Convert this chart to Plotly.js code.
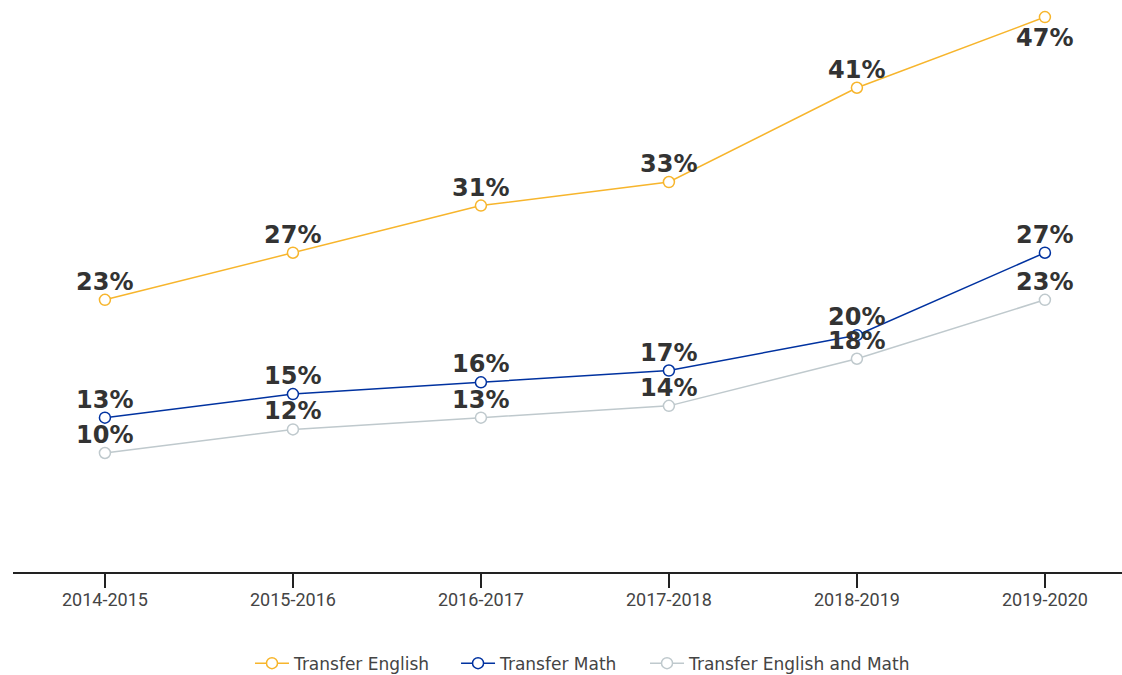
<!DOCTYPE html>
<html>
<head>
<meta charset="utf-8">
<script src="https://cdn.plot.ly/plotly-3.0.1.min.js"></script>
<style>html,body{margin:0;padding:0;background:#fff;}#chart{width:1122px;height:675px;}</style>
</head>
<body>
<div id="chart"></div>
<script>
const years = ["2014-2015", "2015-2016", "2016-2017", "2017-2018", "2018-2019", "2019-2020"];
const transferEnglish = [23, 27, 31, 33, 41, 47];
const transferMath = [13, 15, 16, 17, 20, 27];
const transferBoth = [10, 12, 13, 14, 18, 23];
const englishLabelSide = ["above", "above", "above", "above", "above", "below"];

const colors = {english: "#F7B52C", math: "#0032A0", both: "#BFC9CD"};
const labelFont = {family: "DejaVu Sans, Verdana, sans-serif", size: 24, color: "#333333", weight: "bold"};

function series(name, vals, color, legendId) {
  return {
    type: "scatter",
    mode: "lines+markers",
    name: name,
    x: years,
    y: vals,
    legend: legendId,
    line: {color: color, width: 1.5},
    marker: {symbol: "circle", size: 11, color: "#ffffff", line: {color: color, width: 1.5}},
    cliponaxis: false,
    hoverinfo: "skip"
  };
}

function labelAnnotations(vals, sides) {
  return vals.map((v, i) => {
    const below = sides && sides[i] === "below";
    return {
      x: years[i], y: v, xref: "x", yref: "y",
      text: v + "%", showarrow: false,
      xanchor: "center",
      yanchor: below ? "top" : "bottom",
      yshift: below ? -5 : 2,
      font: labelFont
    };
  });
}

const data = [
  series("Transfer English", transferEnglish, colors.english, "legend"),
  series("Transfer Math", transferMath, colors.math, "legend2"),
  series("Transfer English and Math", transferBoth, colors.both, "legend3")
];

const legendFont = {family: "DejaVu Sans, Verdana, sans-serif", size: 17, color: "#444444"};
function legendAt(x) {
  return {orientation: "h", x: x, xanchor: "left", y: -0.163, yanchor: "middle",
          font: legendFont, itemwidth: 34, bgcolor: "rgba(0,0,0,0)"};
}

const layout = {
  width: 1122, height: 675,
  margin: {l: 13, r: 0, t: 10, b: 103, autoexpand: false},
  paper_bgcolor: "#ffffff", plot_bgcolor: "#ffffff",
  showlegend: true,
  legend: legendAt(0.2137),
  legend2: legendAt(0.3995),
  legend3: legendAt(0.5699),
  annotations: [].concat(
    labelAnnotations(transferEnglish, englishLabelSide),
    labelAnnotations(transferMath),
    labelAnnotations(transferBoth)
  ),
  xaxis: {
    type: "category",
    range: [-0.489, 5.41],
    showgrid: false, zeroline: false,
    showline: true, linecolor: "#222222", linewidth: 1.5,
    ticks: "outside", ticklen: 14, tickwidth: 1.5, tickcolor: "#222222",
    ticklabelstandoff: -3,
    tickfont: {family: "Roboto, sans-serif", size: 18, color: "#444444"}
  },
  yaxis: {
    range: [-0.1, 47.6],
    showgrid: false, zeroline: false, showline: false,
    showticklabels: false, ticks: ""
  },
  hovermode: false
};

Plotly.newPlot("chart", data, layout, {displayModeBar: false, staticPlot: true});
</script>
</body>
</html>
